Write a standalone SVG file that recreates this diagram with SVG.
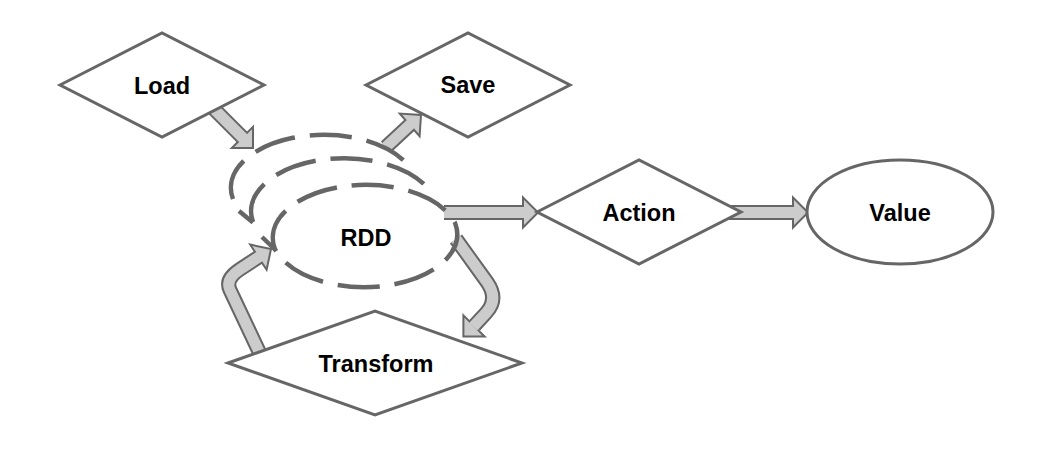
<svg xmlns="http://www.w3.org/2000/svg" width="1050" height="473" viewBox="0 0 1050 473">
<style>
.node{fill:#fff;stroke:#666;stroke-width:3;stroke-linejoin:miter}
.ring{fill:none;stroke:#666;stroke-width:4.5;stroke-dasharray:42 15}
.tip{fill:none;stroke:#666;stroke-width:4.5}
.so{fill:none;stroke:#666;stroke-width:15}
.si{fill:none;stroke:#ccc;stroke-width:11}
.hd{fill:#ccc;stroke:#666;stroke-width:2;stroke-linejoin:miter}
.lbl{font-family:"Liberation Sans",Arial,sans-serif;font-weight:bold;font-size:23.5px;fill:#000;text-anchor:middle}
</style>
<rect width="1050" height="473" fill="#fff"/>
<g id="connectors">
<g id="load-rdd">
<path class="so" d="M200,95 L243,138"/>
<polygon class="hd" points="253,126.8 253,148 231.8,148"/>
<path class="si" d="M200,95 L244.5,139.5"/>
</g>
<g id="rdd-save">
<path class="so" d="M386,147 L409.7,124.9"/>
<polygon class="hd" points="419.6,136.2 421,115 399.8,113.6"/>
<path class="si" d="M386,147 L411.2,123.5"/>
</g>
<g id="rdd-action">
<path class="so" d="M444,212.5 L523,212.5"/>
<polygon class="hd" points="523,197.5 538,212.5 523,227.5"/>
<path class="si" d="M444,212.5 L525,212.5"/>
</g>
<g id="action-value">
<path class="so" d="M722,212.5 L793,212.5"/>
<polygon class="hd" points="793,197.5 808,212.5 793,227.5"/>
<path class="si" d="M722,212.5 L795,212.5"/>
</g>
<g id="rdd-transform">
<path class="so" d="M456,239 L487,282 Q499,299 486,313 L474.6,325.4"/>
<polygon class="hd" points="484.6,336.6 463.4,336.6 463.4,315.4"/>
<path class="si" d="M456,239 L487,282 Q499,299 486,313 L473.2,326.8"/>
</g>
<g id="transform-rdd">
<path class="so" d="M263,360 L230,290 Q224.9,279.1 240,269.3 L258.4,257.2"/>
<polygon class="hd" points="266.6,269.8 271,249 250.2,244.6"/>
<path class="si" d="M263,360 L230,290 Q224.9,279.1 240,269.3 L260,256.2"/>
</g>
</g>
<g id="load">
<polygon class="node" points="60,85 162,33 264,85 162,137"/>
<text class="lbl" x="162" y="94">Load</text>
</g>
<g id="save">
<polygon class="node" points="366,85 468,33 570,85 468,137"/>
<text class="lbl" x="468" y="93">Save</text>
</g>
<g id="rdd">
<path class="ring" d="M233,199 A93 53 0 0 1 407,164"/>
<path class="ring" d="M253,222 A93 53 0 0 1 430,191"/>
<line class="tip" x1="239" y1="211" x2="253" y2="222.5"/>
<path class="ring" d="M274.9,249 A93 53 0 0 1 455.1,223 A93 53 0 0 1 274.9,249"/>
<line class="tip" x1="262" y1="237" x2="275" y2="249.5"/>
<text class="lbl" x="366" y="246">RDD</text>
</g>
<g id="action">
<polygon class="node" points="537,212 639,160 741,212 639,264"/>
<text class="lbl" x="639" y="221">Action</text>
</g>
<g id="value">
<ellipse class="node" cx="900" cy="212" rx="93" ry="52"/>
<text class="lbl" x="900" y="221">Value</text>
</g>
<g id="transform">
<polygon class="node" points="228,363 375,311 522,363 375,415"/>
<text class="lbl" x="376" y="372">Transform</text>
</g>
</svg>
